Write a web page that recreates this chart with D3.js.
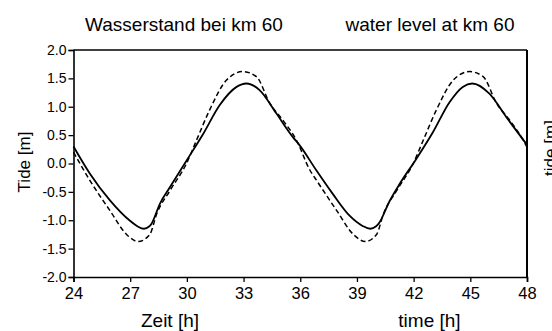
<!DOCTYPE html>
<html>
<head>
<meta charset="utf-8">
<script src="https://cdn.jsdelivr.net/npm/d3@7"></script>
<style>
  body { margin: 0; background: #fff; }
  svg { display: block; font-family: "Liberation Sans", Arial, sans-serif; }
</style>
</head>
<body>
<svg id="chart" width="552" height="331"></svg>
<script>
// hours, tide in m (solid = measured, dashed = model)
const solidT = [24, 24.87, 25.93, 26.99, 27.4, 27.73, 28.0, 28.13, 28.57, 29.1, 29.98, 30.86, 31.74, 32.63, 33.15, 33.86, 34.74, 35.62, 35.97, 36.85, 37.73, 38.61, 39.3, 39.71, 40.0, 40.15, 40.73, 41.26, 42.14, 43.02, 43.9, 44.6, 45.1, 46.01, 46.9, 48]
const solidV = [0.30, -0.18, -0.65, -1.01, -1.11, -1.15, -1.11, -1.06, -0.71, -0.42, 0.05, 0.52, 1.03, 1.35, 1.41, 1.29, 0.88, 0.46, 0.32, -0.12, -0.54, -0.92, -1.10, -1.15, -1.11, -1.06, -0.66, -0.36, 0.08, 0.55, 1.08, 1.35, 1.41, 1.23, 0.82, 0.33]
const dashT = [24, 24.87, 25.93, 26.81, 27.43, 28.04, 28.4, 29.1, 29.98, 30.51, 31.2, 32.1, 32.97, 33.68, 34.39, 35.09, 35.8, 36.5, 36.87, 37.93, 38.81, 39.44, 40.04, 40.4, 41.1, 41.98, 42.51, 43.2, 44.1, 44.97, 45.68, 46.39, 47.09, 47.8, 48]
const dashV = [0.20, -0.30, -0.83, -1.25, -1.375, -1.25, -0.89, -0.48, 0.0, 0.41, 0.94, 1.47, 1.62, 1.53, 1.06, 0.76, 0.41, -0.11, -0.30, -0.83, -1.25, -1.375, -1.25, -0.89, -0.48, 0.0, 0.41, 0.94, 1.47, 1.62, 1.53, 1.06, 0.76, 0.41, 0.29]
const xTicks = [24, 27, 30, 33, 36, 39, 42, 45, 48]
const yTicks = [-2, -1.5, -1, -0.5, 0, 0.5, 1, 1.5, 2]

var svg = d3.select("#chart"),
    margin = {top: 50, right: 25, bottom: 54, left: 73.5},
    width = 552 - margin.left - margin.right,
    height = 331 - margin.top - margin.bottom,
    g = svg.append("g").attr("transform", "translate(" + margin.left + "," + margin.top + ")");

var x = d3.scaleLinear().domain([24, 48]).range([0, width]);
var y = d3.scaleLinear().domain([-2, 2]).range([height, 0]);

var xAxis = g.append("g")
    .attr("transform", "translate(0," + height + ")")
    .call(d3.axisBottom(x).tickValues(xTicks).tickSize(5).tickPadding(5));
var yAxis = g.append("g")
    .call(d3.axisLeft(y).tickValues(yTicks).tickSize(5).tickPadding(2).tickFormat(d3.format(".1f")));

[xAxis, yAxis].forEach(a => {
  a.select(".domain").attr("stroke", "#000").attr("stroke-width", 1.6);
  a.selectAll(".tick line").attr("stroke", "#000").attr("stroke-width", 1.3);
  a.selectAll(".tick text").attr("fill", "#000")
    .attr("font-family", "Liberation Sans, Arial, sans-serif");
});
xAxis.selectAll(".tick text").attr("font-size", 16.5);
yAxis.selectAll(".tick text").attr("font-size", 14)
    .text(d => d3.format(".1f")(d).replace("−", "-"));

// frame top and right
g.append("line").attr("x1", 0).attr("x2", width).attr("y1", 0).attr("y2", 0)
    .attr("stroke", "#000").attr("stroke-width", 1.6);
g.append("line").attr("x1", width).attr("x2", width).attr("y1", 0).attr("y2", height)
    .attr("stroke", "#000").attr("stroke-width", 2);

var line = d3.line()
    .x(d => x(d[0]))
    .y(d => y(d[1]))
    .curve(d3.curveMonotoneX);

g.append("path")
    .datum(dashT.map((t, i) => [t, dashV[i]]))
    .attr("d", line)
    .attr("fill", "none")
    .attr("stroke", "#000")
    .attr("stroke-width", 1.5)
    .attr("stroke-dasharray", "5,3");

g.append("path")
    .datum(solidT.map((t, i) => [t, solidV[i]]))
    .attr("d", line)
    .attr("fill", "none")
    .attr("stroke", "#000")
    .attr("stroke-width", 1.8);

// titles and labels
svg.append("text").attr("x", 184).attr("y", 31).attr("text-anchor", "middle")
    .attr("font-size", 19).text("Wasserstand bei km 60");
svg.append("text").attr("x", 430).attr("y", 31).attr("text-anchor", "middle")
    .attr("font-size", 19).text("water level at km 60");
svg.append("text").attr("x", 170).attr("y", 327).attr("text-anchor", "middle")
    .attr("font-size", 19).text("Zeit [h]");
svg.append("text").attr("x", 429.5).attr("y", 327).attr("text-anchor", "middle")
    .attr("font-size", 19).text("time [h]");
svg.append("text").attr("transform", "translate(30,162) rotate(-90)").attr("text-anchor", "middle")
    .attr("font-size", 17).text("Tide [m]");
svg.append("text").attr("transform", "translate(556,148) rotate(-90)").attr("text-anchor", "middle")
    .attr("font-size", 17).text("tide [m]");
</script>
</body>
</html>
